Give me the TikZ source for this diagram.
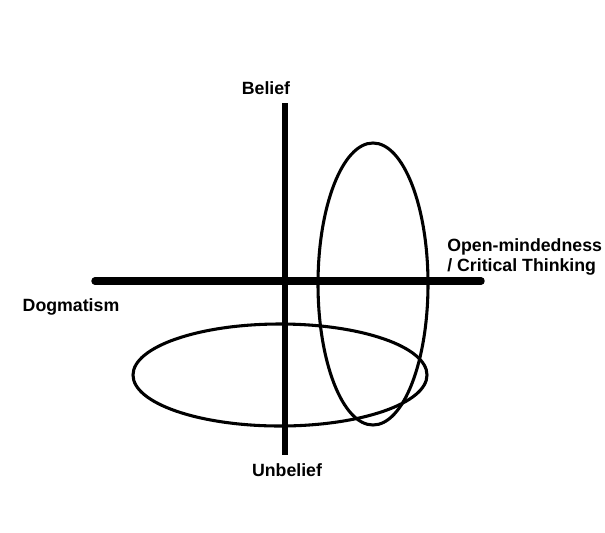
\documentclass[tikz,border=0pt]{standalone}
\usepackage{fontspec}
\setmainfont{Liberation Sans}
\usetikzlibrary{positioning}
\tikzset{
  lbl/.style={font=\bfseries\fontsize{13.3}{15}\selectfont,inner sep=0pt},
  vaxis/.style={line width=3.8pt},
  haxis/.style={line width=5.6pt,line cap=round},
  loop/.style={line width=2.3pt},
}
\begin{document}
\begin{tikzpicture}[x=0.75pt,y=-0.75pt]
\useasboundingbox (0,0) rectangle (605,532);
\coordinate (top)    at (285,103);
\coordinate (bottom) at (285,455);
\coordinate (left)   at (95,281);
\coordinate (right)  at (481,281);
\node[lbl] (belief)   at (266,88)  {Belief};
\node[lbl] (unbelief) at (287,470) {Unbelief};
\node[lbl] (dogma)    at (71,307)  {Dogmatism};
\node[lbl,anchor=west,align=left] (open) at (447,257) {Open-mindedness\\/ Critical Thinking};
\draw[vaxis] (top) -- (bottom);
\draw[haxis] (left) -- (right);
% the two hand drawn ellipses
\draw[loop] (373,284) ellipse [x radius=55,y radius=141];
\draw[loop] (280,375) ellipse [x radius=147,y radius=51];
\end{tikzpicture}
\end{document}
